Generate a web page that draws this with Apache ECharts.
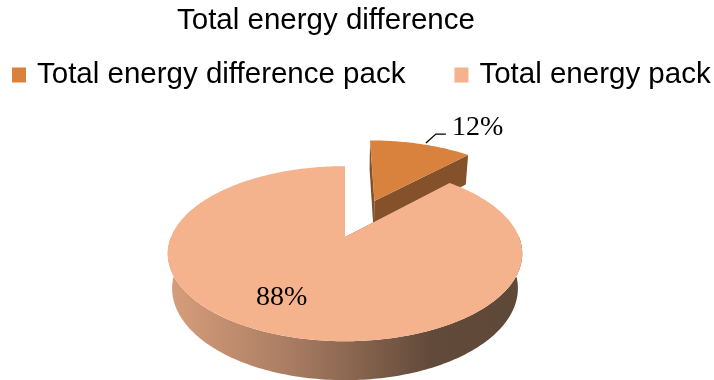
<!DOCTYPE html>
<html>
<head>
<meta charset="utf-8">
<script src="https://cdn.jsdelivr.net/npm/echarts@6/dist/echarts.min.js"></script>
<style>
  html, body { margin: 0; padding: 0; background: #fff; }
  #chart { width: 714px; height: 380px; }
</style>
</head>
<body>
<div id="chart"></div>
<script>
// ---- data ----
const chartTitle = 'Total energy difference';
const categories = ['Total energy difference pack', 'Total energy pack'];
const values = [12, 88];

// ---- styling ----
const topColors = ['#D8823E', '#F4B38D'];
const edgeColors = ['#84512A', '#7A5A47'];
const explode = [0.5, 0];            // radial offset of each slice, in radius units
const wallFill = {
  type: 'linear', x: 167, y: 0, x2: 522, y2: 0, global: true,
  colorStops: [
    { offset: 0, color: '#D89E7C' },
    { offset: 0.35, color: '#A97C62' },
    { offset: 0.74, color: '#624A3A' },
    { offset: 1, color: '#5E4838' }
  ]
};

// 3D pie camera: centre, radius in px, tilt, viewing distance and slab thickness
const PIE = { cx: 345, cy: 237, r: 174, tilt: 29 * Math.PI / 180, dist: 4.59, depth: 0.23 };

function project(x, z, h) {
  const s = Math.sin(PIE.tilt), c = Math.cos(PIE.tilt);
  const d = z * c + h * s;
  const k = PIE.dist / (PIE.dist - d);
  return [PIE.cx + PIE.r * x * k, PIE.cy + PIE.r * (z * s - h * c) * k];
}

// point on the rim; angle in degrees clockwise from 12 o'clock
function rim(deg, rad, ox, oz, h) {
  const a = deg * Math.PI / 180;
  return project(ox + rad * Math.sin(a), oz - rad * Math.cos(a), h);
}

function renderSlice(idx) {
  return function (params, api) {
    const total = values.reduce((a, b) => a + b, 0);
    let start = 0;
    for (let j = 0; j < idx; j++) start += values[j] / total * 360;
    const v = api.value(0);
    const end = start + v / total * 360;
    const mid = (start + end) / 2;
    const ma = mid * Math.PI / 180;
    const ox = explode[idx] * Math.sin(ma), oz = -explode[idx] * Math.cos(ma);
    const bottom = -PIE.depth;

    const arc = (a0, a1, h) => {
      const n = Math.max(2, Math.ceil(a1 - a0));
      const pts = [];
      for (let k = 0; k <= n; k++) pts.push(rim(a0 + (a1 - a0) * k / n, 1, ox, oz, h));
      return pts;
    };

    const children = [];

    // curved outer wall, front half only
    const w0 = Math.max(start, 90), w1 = Math.min(end, 270);
    if (w1 > w0) {
      const topArc = arc(w0, w1, 0);
      const botArc = arc(w0, w1, bottom).reverse();
      children.push({ type: 'polygon', shape: { points: topArc.concat(botArc) }, style: { fill: wallFill } });
    }

    // flat cut walls
    const c0 = project(ox, oz, 0), c1 = project(ox, oz, bottom);
    [start, end].forEach(a => {
      const p0 = rim(a, 1, ox, oz, 0), p1 = rim(a, 1, ox, oz, bottom);
      children.push({ type: 'polygon', shape: { points: [c0, p0, p1, c1] }, style: { fill: edgeColors[idx] } });
    });

    // top face
    children.push({ type: 'polygon', shape: { points: [c0].concat(arc(start, end, 0)) }, style: { fill: topColors[idx] } });

    // percentage label
    const pct = Math.round(v / total * 100) + '%';
    const font = '28px "Liberation Serif"';
    if (explode[idx] > 0) {
      const a = rim(mid, 1, ox, oz, 0);
      const p1 = [a[0] + 5, a[1] - 1], p2 = [a[0] + 15, a[1] - 10], p3 = [a[0] + 25, a[1] - 10];
      children.push({ type: 'polyline', shape: { points: [p1, p2, p3] }, style: { stroke: '#000', lineWidth: 1.3, fill: null } });
      children.push({ type: 'text', x: p3[0] + 6, y: p3[1] - 6, style: { text: pct, font, fill: '#000', align: 'left', verticalAlign: 'middle' } });
    } else {
      const a = rim(mid, 0.75, ox, oz, 0);
      children.push({ type: 'text', x: a[0] - 8, y: a[1] - 7, style: { text: pct, font, fill: '#000', align: 'center', verticalAlign: 'middle' } });
    }

    return { type: 'group', children };
  };
}

const chart = echarts.init(document.getElementById('chart'));
chart.setOption({
  animation: false,
  backgroundColor: '#fff',
  title: {
    text: chartTitle,
    left: 172,
    top: 1,
    textStyle: { fontFamily: 'Liberation Sans', fontSize: 29.5, fontWeight: 'normal', color: '#000' }
  },
  legend: {
    data: categories,
    left: 12,
    top: 60,
    padding: 0,
    width: 702,
    icon: 'rect',
    itemWidth: 14,
    itemHeight: 15,
    itemGap: 49,
    selectedMode: false,
    textStyle: { fontFamily: 'Liberation Sans', fontSize: 29.5, color: '#000', padding: [0, 0, 0, 6] }
  },
  series: categories.map((name, i) => ({
    type: 'custom',
    name,
    coordinateSystem: 'none',
    silent: true,
    itemStyle: { color: topColors[i] },
    renderItem: renderSlice(i),
    data: [values[i]]
  }))
});
</script>
</body>
</html>
